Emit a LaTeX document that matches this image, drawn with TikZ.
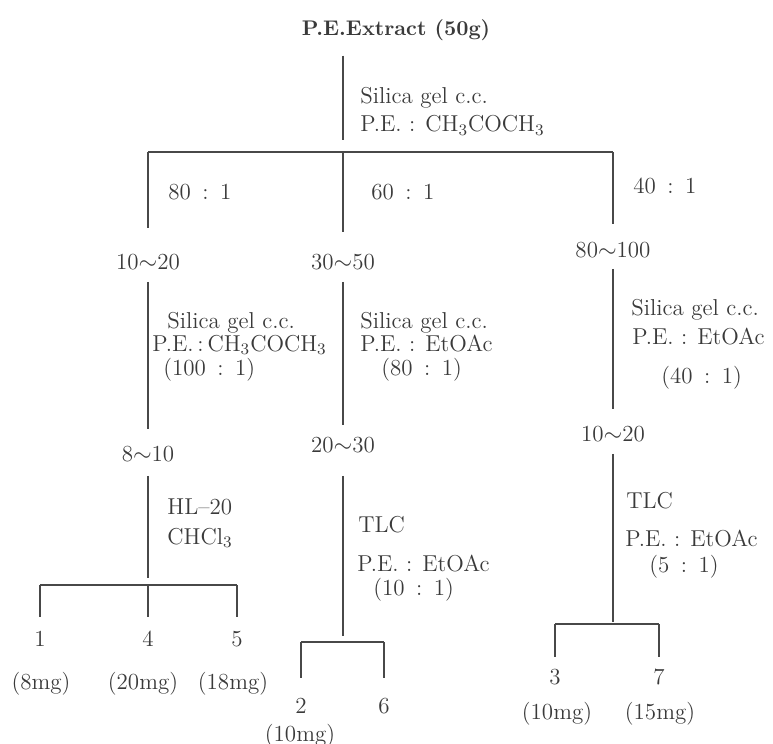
\documentclass[tikz,border=0pt]{standalone}
\usepackage{xcolor}
\usepackage{tikz}
\usetikzlibrary{positioning}
\definecolor{ink}{HTML}{3A3A3A}
\definecolor{wire}{HTML}{484848}
\newcommand{\cln}{\enspace:\enspace}

\begin{document}
\begin{tikzpicture}[
  x=0.5pt,y=-0.5pt,
  every node/.style={inner sep=0pt,text=ink,font=\fontsize{11.5}{13}\selectfont},
  head/.style={anchor=base,font=\fontsize{10.6}{13}\selectfont\bfseries},
  frac/.style={anchor=base},
  note/.style={anchor=base west},
  ln/.style={draw=wire,line width=0.7pt}
]
\useasboundingbox (0,0) rectangle (773,744);

% extract and first column
\node[head] (ext) at (396,35) {P.E.Extract (50g)};
\node[note] (c0a) at (360,104) {Silica gel c.c.};
\node[note] (c0b) at (360,132) {P.E. : CH\textsubscript{3}COCH\textsubscript{3}};
\coordinate (b0a) at (148,152);
\coordinate (b0b) at (343,152);
\coordinate (b0c) at (613,152);

\node[note] (r1) at (168,199) {80\cln1};
\node[note] (r2) at (371,199) {60\cln1};
\node[note] (r3) at (633,193) {40\cln1};
\node[frac] (f1) at (148,270) {10$\sim$20};
\node[frac] (f2) at (343,269) {30$\sim$50};
\node[frac] (f3) at (613,257) {80$\sim$100};

% second columns
\node[note] (c1a) at (167,328) {Silica gel c.c.};
\node[note] (c1b) at (152,351) {P.E.\,:\,CH\textsubscript{3}COCH\textsubscript{3}};
\node[note] (c1c) at (163,375) {(100\cln1)};
\node[note] (c2a) at (360,328) {Silica gel c.c.};
\node[note] (c2b) at (360,351) {P.E. : EtOAc};
\node[note] (c2c) at (381,375) {(80\cln1)};
\node[note] (c3a) at (631,315) {Silica gel c.c.};
\node[note] (c3b) at (632,344) {P.E. : EtOAc};
\node[note] (c3c) at (661,383) {(40\cln1)};
\node[frac] (g1) at (148,461) {8$\sim$10};
\node[frac] (g2) at (343,452) {20$\sim$30};
\node[frac] (g3) at (613,441) {10$\sim$20};

% last step
\node[note] (c4a) at (167,514) {HL--20};
\node[note] (c4b) at (167,544) {CHCl\textsubscript{3}};
\node[note] (c5a) at (358,532) {TLC};
\node[note] (c5b) at (357,571) {P.E. : EtOAc};
\node[note] (c5c) at (373,595) {(10\cln1)};
\node[note] (c6a) at (626,508) {TLC};
\node[note] (c6b) at (625,546) {P.E. : EtOAc};
\node[note] (c6c) at (649,572) {(5\cln1)};
\coordinate (b1a) at (40,585);
\coordinate (b1b) at (148,585);
\coordinate (b1c) at (237,585);
\coordinate (b2a) at (301,642);
\coordinate (b2b) at (343,642);
\coordinate (b2c) at (384,642);
\coordinate (b3a) at (555,624);
\coordinate (b3b) at (613,624);
\coordinate (b3c) at (659,624);

% compounds
\node[frac] (p1) at (40,646) {1};
\node[frac] (p4) at (148,646) {4};
\node[frac] (p5) at (237,646) {5};
\node[frac] (m1) at (41,689) {(8mg)};
\node[frac] (m4) at (143,689) {(20mg)};
\node[frac] (m5) at (233,689) {(18mg)};
\node[frac] (p2) at (301,713) {2};
\node[frac] (p6) at (384,713) {6};
\node[frac] (m2) at (300,741) {(10mg)};
\node[frac] (p3) at (555,684) {3};
\node[frac] (p7) at (659,684) {7};
\node[frac] (m3) at (557,719) {(10mg)};
\node[frac] (m7) at (660,719) {(15mg)};

% connectors
\draw[ln,shorten <=7.5pt,shorten >=6pt] (ext.south -| b0b) -- (b0b);
\draw[ln] (b0a) -- (b0c);
\foreach \j/\f/\s in {b0a/f1/13pt,b0b/f2/10.5pt,b0c/f3/8.5pt}
  \draw[ln,shorten >=\s] (\j) -- (\f.north);
\foreach \a/\b/\s/\t in {f1/g1/5.5pt/8pt,f2/g2/6pt/5.5pt,f3/g3/5.5pt/8pt}
  \draw[ln,shorten <=\s,shorten >=\t] (\a.south) -- (\b.north);
\foreach \a/\j/\s/\t in {g1/b1b/7pt/3.5pt,g2/b2b/11.5pt/3pt,g3/b3b/6pt/1pt}
  \draw[ln,shorten <=\s,shorten >=\t] (\a.south) -- (\j);
\draw[ln] (b1a) -- (b1c);
\draw[ln] (b2a) -- (b2c);
\draw[ln] (b3a) -- (b3c);
\foreach \j/\p in {b1a/p1,b1b/p4,b1c/p5}
  \draw[ln,shorten >=6.5pt] (\j) -- (\p.north);
\foreach \j/\p in {b2a/p2,b2c/p6}
  \draw[ln,shorten >=9.5pt] (\j) -- (\p.north);
\foreach \j/\p in {b3a/p3,b3c/p7}
  \draw[ln,shorten >=5.5pt] (\j) -- (\p.north);
\end{tikzpicture}
\end{document}
